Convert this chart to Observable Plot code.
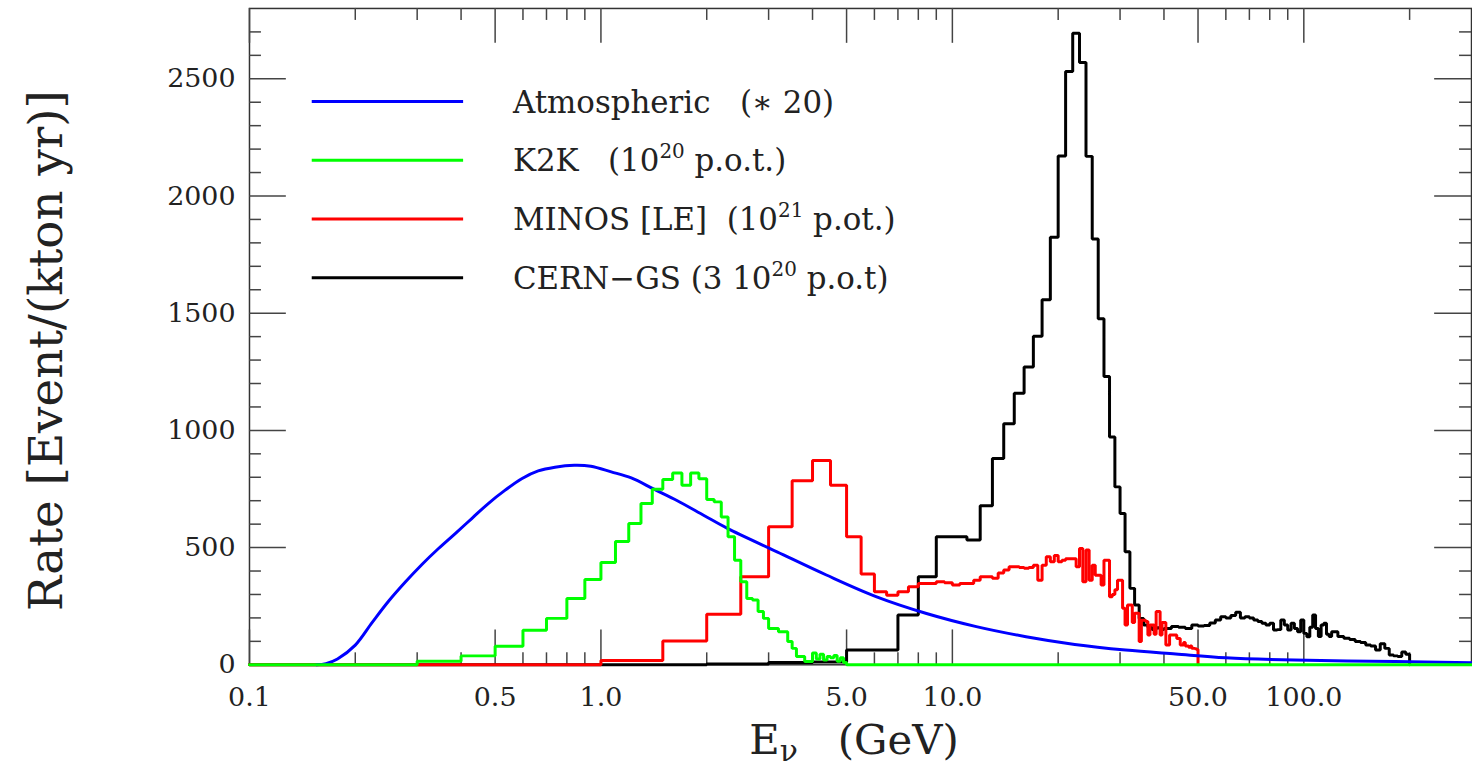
<!DOCTYPE html>
<html><head><meta charset="utf-8">
<script src="https://cdn.jsdelivr.net/npm/d3@7"></script>
<script src="https://cdn.jsdelivr.net/npm/@observablehq/plot@0.6"></script>
<style>
html,body{margin:0;padding:0;background:#fff;overflow:hidden;}
#chart svg{display:block;}
</style></head><body><div id="chart"></div>
<script>
// ---- axis setup ----
const E_MIN = 0.1, E_MAX = 300, RATE_MAX = 2800;
const xMajorTicks = [0.1, 0.5, 1, 5, 10, 50, 100];
const xTickLabels = ["0.1", "0.5", "1.0", "5.0", "10.0", "50.0", "100.0"];
const xMinorTicks = [0.2,0.3,0.4,0.6,0.7,0.8,0.9,2,3,4,6,7,8,9,20,30,40,60,70,80,90,200];
const yMajorTicks = [0, 500, 1000, 1500, 2000, 2500];
const yMinorTicks = [100,200,300,400,600,700,800,900,1100,1200,1300,1400,1600,1700,1800,1900,2100,2200,2300,2400,2600,2700];

// ---- Atmospheric (*20), smooth curve ----
const atmE    = [0.155,0.165,0.178,0.2,0.2235,0.249,0.278,0.31,0.345,0.385,0.429,0.478,0.534,0.595,0.663,0.74,0.84,0.936,1.07,1.22,1.42,1.65,1.97,2.29,3.17,4.38,6.09,8.44,11.7,16.2,22.3,31.1,43.2,60,94,182,300];
const atmRate = [0,5,25,84,181,272,354,429,496,560,624,688,745,794,827,843,851,847,823,797,748,700,636,582,482,383,290,219,163,120,87,63,46,30,20,14,9];

// ---- K2K histogram (bin lower edges, 0.1 GeV bins) ----
const k2kEdges = [0.1,0.2,0.3,0.4,0.5,0.6,0.7,0.8,0.9,1.0,1.1,1.2,1.3,1.4,1.5,1.6,1.7,1.8,1.9,2.0,2.1,2.2,2.3,2.4,2.5,2.6,2.7,2.8,2.9,3.0,3.1,3.2,3.3,3.4,3.5,3.6,3.7,3.8,3.9,4.0,4.1,4.2,4.3,4.4,4.5,4.6,4.7,4.8,4.9];
const k2kRate  = [0,0,15,38,79,147,198,283,364,436,526,603,688,749,790,818,766,818,794,705,695,631,546,446,354,283,276,227,198,155,155,141,141,99,70,35,35,14,14,50,25,45,20,35,30,40,15,30,10];
const k2kEnd = 5.0;

// ---- MINOS [LE] histogram (0.5 GeV bins) ----
const minosEdges = [0.1,0.5,1,1.5,2,2.5,3,3.5,4,4.5,5,5.5,6,6.5,7,7.5,8,8.5,9,9.5,10,10.5,11,11.5,12,12.5,13,13.5,14,14.5,15,15.5,16,16.5,17,17.5,18,18.5,19,19.5,20,20.5,21,21.5,22,22.5,23,23.5,24,24.5,25,25.5,26,26.5,27,27.5,28,28.5,29,29.5,30,30.5,31,31.5,32,32.5,33,33.5,34,34.5,35,35.5,36,36.5,37,37.5,38,38.5,39,39.5,40,40.5,41,41.5,42,42.5,43,43.5,44,44.5,45,45.5,46,46.5,47,47.5,48,48.5,49,49.5];
const minosRate  = [0,0,18,101,216,376,589,785,872,766,546,387,312,297,312,333,347,347,354,350,340,347,347,361,376,376,369,392,404,418,418,415,412,415,425,361,425,461,440,466,440,446,452,452,452,418,496,354,490,361,425,382,382,340,446,446,290,300,320,361,361,241,170,255,255,180,220,220,99,190,190,185,127,170,170,130,227,227,127,180,180,84,84,127,127,127,127,112,112,84,84,95,80,80,75,80,70,70,68,65];
const minosEnd = 50;

// ---- CERN-GS histogram (variable bins) ----
const cngsEdges = [0.1,1,2,3,4,5,6,7,8,9,10,11,12,13,14,15,16,17,18,19,20,21,22,23,24,25,26,27,28,29,30,31,32,33,34,35,36,37,38,39,40,42,44,46,48,50,52,54,56,58,60,62,64,66,68,70,72,74,76,78,80,82,84,86,88,90,92,94,96,98,100,102,104,106,108,110,112,114,116,118,120,125,130,135,140,145,150,155,160,165,170,175,180,185,190,195];
const cngsRate  = [0,0,3,10,12,63,63,212,376,546,546,532,678,880,1028,1158,1270,1402,1557,1824,2171,2531,2694,2569,2169,1816,1476,1230,972,759,645,482,326,255,198,170,160,150,158,150,155,163,160,155,170,165,168,178,191,205,200,210,224,200,205,200,191,185,177,170,177,148,150,191,170,148,177,155,141,191,134,120,160,212,155,121,170,177,130,121,141,121,113,108,99,95,84,80,63,90,70,42,38,35,55,45];
const cngsEnd = 200;

const series = [
  {name: "Atmospheric", color: "#0000ff", label: [["Atmospheric   (\u2217 20)"]]},
  {name: "K2K", color: "#00ff00", label: [["K2K   (10"], ["20", true], [" p.o.t.)"]]},
  {name: "MINOS", color: "#ff0000", label: [["MINOS [LE]  (10"], ["21", true], [" p.ot.)"]]},
  {name: "CERN-GS", color: "#000000", label: [["CERN\u2212GS (3 10"], ["20", true], [" p.o.t)"]]}
];

function steps(edges, rates, end, tail) {
  const pts = edges.map((e, i) => ({E: e, rate: rates[i]}));
  pts.push({E: end, rate: 0});
  if (tail) pts.push({E: tail, rate: 0});
  return pts;
}
const cngsPts = steps(cngsEdges, cngsRate, cngsEnd);
const minosPts = steps(minosEdges, minosRate, minosEnd);
const k2kPts = steps(k2kEdges, k2kRate, k2kEnd, E_MAX);
const atmPts = atmE.map((e, i) => ({E: e, rate: atmRate[i]}));

// ---- layout ----
const W = 1478, H = 777, mL = 250, mR = 1, mT = 8, mB = 110;
const fw = W - mL - mR, fh = H - mT - mB;
const LONG = 35, SHORT = 12;
const FONT = "DejaVu Serif";
const TXT = "#222";
const TICK = "#444";

const plot = Plot.plot({
  width: W, height: H,
  marginLeft: mL, marginRight: mR, marginTop: mT, marginBottom: mB,
  x: {type: "log", domain: [E_MIN, E_MAX], axis: null},
  y: {domain: [0, RATE_MAX], axis: null},
  style: {fontFamily: FONT, background: "#fff"},
  marks: [
    Plot.frame({stroke: "#333", strokeWidth: 1.5}),
    // ticks (inward) bottom / top
    Plot.ruleX(xMajorTicks, {x: d => d, insetTop: fh - LONG, stroke: TICK, strokeWidth: 1.5}),
    Plot.ruleX(xMajorTicks, {x: d => d, insetBottom: fh - LONG, stroke: TICK, strokeWidth: 1.5}),
    Plot.ruleX(xMinorTicks, {x: d => d, insetTop: fh - SHORT, stroke: TICK, strokeWidth: 1.5}),
    Plot.ruleX(xMinorTicks, {x: d => d, insetBottom: fh - SHORT, stroke: TICK, strokeWidth: 1.5}),
    // ticks left / right
    Plot.ruleY(yMajorTicks, {y: d => d, insetRight: fw - LONG - 2, stroke: TICK, strokeWidth: 1.5}),
    Plot.ruleY(yMajorTicks, {y: d => d, insetLeft: fw - LONG - 2, stroke: TICK, strokeWidth: 1.5}),
    Plot.ruleY(yMinorTicks, {y: d => d, insetRight: fw - SHORT, stroke: TICK, strokeWidth: 1.5}),
    Plot.ruleY(yMinorTicks, {y: d => d, insetLeft: fw - SHORT, stroke: TICK, strokeWidth: 1.5}),
    // tick labels
    Plot.text(yMajorTicks, {y: d => d, text: d => String(d), frameAnchor: "left", textAnchor: "end", dx: -14, fontSize: 27, fill: TXT}),
    Plot.text(xMajorTicks, {x: d => d, text: (d, i) => xTickLabels[i], frameAnchor: "bottom", dy: 41, fontSize: 27, fill: TXT}),
    // data
    Plot.line(cngsPts, {x: "E", y: "rate", curve: "step-after", stroke: "#000000", strokeWidth: 3, strokeLinejoin: "miter"}),
    Plot.line(minosPts, {x: "E", y: "rate", curve: "step-after", stroke: "#ff0000", strokeWidth: 3, strokeLinejoin: "miter"}),
    Plot.line(atmPts, {x: "E", y: "rate", curve: "catmull-rom", stroke: "#0000ff", strokeWidth: 3}),
    Plot.line(k2kPts, {x: "E", y: "rate", curve: "step-after", stroke: "#00ff00", strokeWidth: 3, strokeLinejoin: "miter"})
  ]
});

const svg = d3.select(plot);
// legend
const leg = svg.append("g").attr("font-family", FONT).attr("font-size", 31).attr("fill", TXT)
  .attr("text-anchor", "start");
const legX1 = 313, legX2 = 465, legTextX = 515, legY0 = 102, legDY = 59;
series.forEach((s, i) => {
  const y = legY0 + i * legDY;
  leg.append("line").attr("x1", legX1).attr("x2", legX2).attr("y1", y).attr("y2", y)
    .attr("stroke", s.color).attr("stroke-width", 3);
  const t = leg.append("text").attr("x", legTextX).attr("y", y + 11)
    .attr("text-anchor", "start").style("white-space", "pre");
  s.label.forEach(([str, sup], j) => {
    const ts = t.append("tspan").text(str);
    if (sup) ts.attr("dy", -13).attr("font-size", 20);
    else if (j > 0) ts.attr("dy", 13);
  });
});
// axis titles
const xt = svg.append("text").attr("x", (mL + W - mR) / 2 - 6).attr("y", 757)
  .attr("text-anchor", "middle").attr("font-family", FONT).attr("font-size", 42).attr("fill", TXT)
  .style("white-space", "pre");
xt.append("tspan").text("E");
xt.append("tspan").attr("dy", 7).attr("font-size", 30).text("\u03bd");
xt.append("tspan").attr("dy", -7).text("   (GeV)");
svg.append("text").attr("transform", "translate(62,352) rotate(-90)")
  .attr("text-anchor", "middle").attr("font-family", FONT).attr("font-size", 47).attr("fill", TXT)
  .text("Rate [Event/(kton yr)]");

document.getElementById("chart").appendChild(plot);
</script></body></html>
